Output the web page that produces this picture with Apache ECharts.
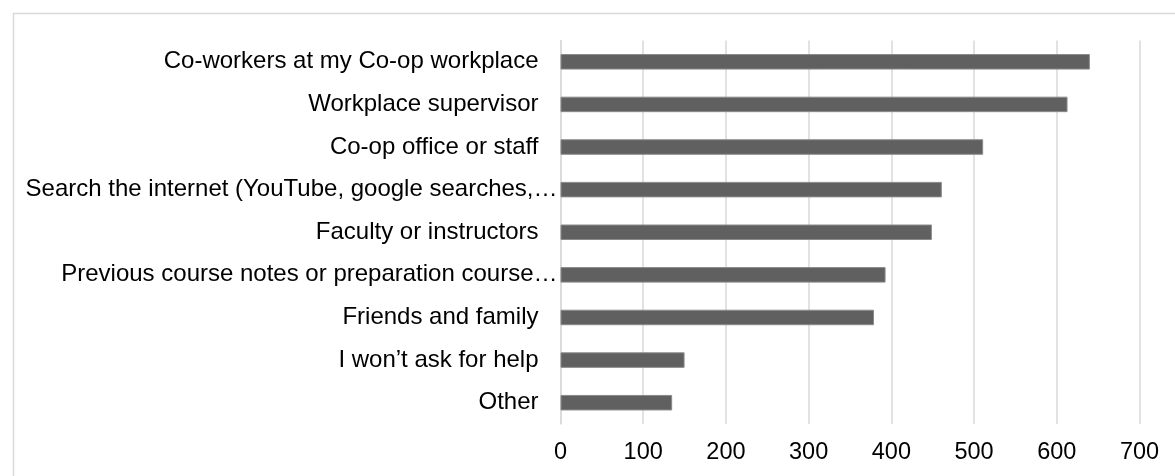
<!DOCTYPE html>
<html>
<head>
<meta charset="utf-8">
<style>
  html, body { margin: 0; padding: 0; background: #ffffff; }
  #chart { width: 1175px; height: 476px; }
</style>
<script src="https://cdn.jsdelivr.net/npm/echarts@6/dist/echarts.min.js"></script>
</head>
<body>
<div id="chart"></div>
<script>
// Sources of help, listed top to bottom
const categories = [
  "Co-workers at my Co-op workplace",
  "Workplace supervisor",
  "Co-op office or staff",
  "Search the internet (YouTube, google searches,\u2026",
  "Faculty or instructors",
  "Previous course notes or preparation course\u2026",
  "Friends and family",
  "I won\u2019t ask for help",
  "Other"
];
// Number of responses for each source
const responses = [640, 613, 511, 461, 449, 393, 379, 150, 135];
// Value axis ticks
const xTicks = [0, 100, 200, 300, 400, 500, 600, 700];

const FONT = "'Liberation Sans', Arial, sans-serif";
const chart = echarts.init(document.getElementById('chart'), null, { renderer: 'canvas' });

// category axis runs bottom-up, so reverse to list the first entry on top
const yCats = categories.slice().reverse();
const yVals = responses.slice().reverse();

chart.setOption({
  animation: false,
  backgroundColor: '#ffffff',
  graphic: [{
    type: 'rect',
    left: 11, top: 11,
    shape: { width: 1250, height: 520 },
    style: { fill: 'none', stroke: '#d9d9d9', lineWidth: 1.5 },
    silent: true
  }],
  grid: { left: 560.5, right: 35.5, top: 40.5, bottom: 52, containLabel: false },
  xAxis: {
    type: 'value',
    min: xTicks[0],
    max: xTicks[xTicks.length - 1],
    interval: 100,
    axisLine: { show: false },
    axisTick: { show: false },
    splitLine: { show: true, lineStyle: { color: '#d9d9d9', width: 1.5 } },
    axisLabel: { color: '#000000', fontFamily: FONT, fontSize: 23.5, margin: 17 }
  },
  yAxis: {
    type: 'category',
    data: yCats,
    axisLine: { show: true, lineStyle: { color: '#d9d9d9', width: 1.5 } },
    axisTick: { show: false },
    axisLabel: {
      color: '#000000',
      fontFamily: FONT,
      fontSize: 24,
      margin: 3,
      formatter: function (v) {
        return v.endsWith('\u2026') ? '{t|' + v + '}' : '{n|' + v + '}';
      },
      rich: {
        n: { color: '#000000', fontFamily: FONT, fontSize: 24, padding: [0, 19, 0, 0] },
        t: { color: '#000000', fontFamily: FONT, fontSize: 24, padding: [0, 0, 0, 0] }
      }
    }
  },
  series: [{
    type: 'bar',
    data: yVals,
    barWidth: 15.5,
    itemStyle: { color: '#606060', borderColor: '#8a8a8a', borderWidth: 1 }
  }]
});
</script>
</body>
</html>
